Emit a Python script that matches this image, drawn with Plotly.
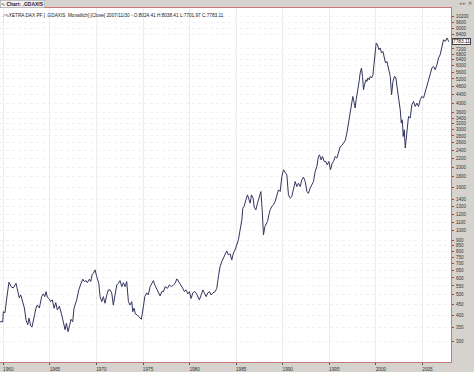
import plotly.graph_objects as go
import math

# --- data (decimal year, monthly close) ---
years = [
    1959.65, 1959.94, 1960.00, 1960.18, 1960.37, 1960.61, 1960.83, 1961.07, 1961.36, 1961.50,
    1961.72, 1961.87, 1962.08, 1962.26, 1962.44, 1962.62, 1962.76, 1962.94, 1963.08, 1963.30,
    1963.51, 1963.65, 1963.87, 1964.12, 1964.30, 1964.45, 1964.59, 1964.73, 1964.94, 1965.09,
    1965.26, 1965.45, 1965.63, 1965.80, 1966.02, 1966.23, 1966.44, 1966.63, 1966.77, 1966.95,
    1967.13, 1967.27, 1967.45, 1967.59, 1967.88, 1968.10, 1968.35, 1968.53, 1968.70, 1968.88,
    1969.02, 1969.24, 1969.39, 1969.53, 1969.67, 1969.85, 1970.03, 1970.25, 1970.39, 1970.57,
    1970.74, 1970.92, 1971.11, 1971.28, 1971.46, 1971.64, 1971.81, 1971.99, 1972.18, 1972.35,
    1972.53, 1972.72, 1972.89, 1973.07, 1973.25, 1973.43, 1973.61, 1973.79, 1973.90, 1974.04,
    1974.18, 1974.39, 1974.61, 1974.82, 1975.03, 1975.19, 1975.40, 1975.57, 1975.76, 1975.97,
    1976.11, 1976.26, 1976.48, 1976.65, 1976.83, 1977.01, 1977.19, 1977.37, 1977.62, 1977.83,
    1978.05, 1978.26, 1978.44, 1978.63, 1978.84, 1979.05, 1979.27, 1979.44, 1979.62, 1979.81,
    1979.98, 1980.16, 1980.34, 1980.52, 1980.70, 1980.88, 1981.05, 1981.24, 1981.42, 1981.59,
    1981.77, 1981.95, 1982.13, 1982.31, 1982.49, 1982.74, 1982.92, 1983.09, 1983.27, 1983.45,
    1983.62, 1983.81, 1983.99, 1984.16, 1984.35, 1984.53, 1984.70, 1984.88, 1985.07, 1985.24,
    1985.42, 1985.61, 1985.71, 1985.85, 1986.04, 1986.21, 1986.39, 1986.50, 1986.64, 1986.82,
    1986.93, 1987.11, 1987.29, 1987.50, 1987.65, 1987.79, 1987.93, 1988.08, 1988.22, 1988.36,
    1988.51, 1988.65, 1988.83, 1989.00, 1989.18, 1989.37, 1989.54, 1989.72, 1989.90, 1990.08,
    1990.26, 1990.44, 1990.61, 1990.79, 1990.97, 1991.15, 1991.33, 1991.51, 1991.69, 1991.87,
    1992.05, 1992.22, 1992.41, 1992.59, 1992.76, 1992.94, 1993.13, 1993.30, 1993.48, 1993.66,
    1993.83, 1993.94, 1994.12, 1994.26, 1994.45, 1994.63, 1994.77, 1994.95, 1995.12, 1995.31,
    1995.45, 1995.63, 1995.81, 1995.98, 1996.16, 1996.35, 1996.52, 1996.70, 1996.88, 1997.05,
    1997.23, 1997.41, 1997.52, 1997.63, 1997.77, 1997.88, 1998.02, 1998.17, 1998.31, 1998.45,
    1998.56, 1998.67, 1998.77, 1998.93, 1999.03, 1999.14, 1999.28, 1999.39, 1999.53, 1999.68,
    1999.79, 1999.89, 2000.03, 2000.17, 2000.32, 2000.46, 2000.60, 2000.75, 2000.89, 2001.03,
    2001.18, 2001.35, 2001.54, 2001.68, 2001.83, 2002.00, 2002.15, 2002.26, 2002.43, 2002.61,
    2002.72, 2002.83, 2002.93, 2003.04, 2003.15, 2003.26, 2003.36, 2003.50, 2003.68, 2003.86,
    2004.04, 2004.22, 2004.40, 2004.57, 2004.76, 2004.94, 2005.11, 2005.29, 2005.47, 2005.64,
    2005.82, 2006.01, 2006.18, 2006.36, 2006.55, 2006.72, 2006.90, 2007.09, 2007.26, 2007.44,
    2007.63, 2007.83,
]
closes = [
    373, 373, 416, 411, 483, 573, 546, 538, 566, 538,
    483, 499, 464, 433, 380, 361, 388, 357, 352, 401,
    433, 447, 433, 490, 505, 490, 517, 487, 477, 464,
    473, 432, 459, 424, 442, 409, 373, 342, 367, 335,
    361, 383, 373, 432, 473, 527, 566, 592, 577, 583,
    570, 592, 577, 621, 632, 655, 609, 566, 490, 464,
    490, 456, 499, 527, 527, 510, 447, 490, 556, 566,
    583, 546, 570, 546, 577, 464, 447, 464, 416, 432,
    406, 401, 391, 383, 438, 490, 510, 499, 546, 566,
    583, 556, 527, 510, 494, 517, 517, 546, 536, 556,
    546, 556, 566, 594, 577, 556, 536, 517, 527, 505,
    517, 480, 510, 517, 510, 490, 473, 499, 527, 510,
    490, 510, 517, 499, 510, 517, 536, 609, 679, 716,
    744, 779, 805, 771, 779, 730, 785, 814, 859, 907,
    1011, 1127, 1280, 1303, 1400, 1478, 1400, 1351, 1478, 1426,
    1294, 1257, 1351, 1478, 1532, 1257, 957, 1048, 1087, 1106,
    1190, 1257, 1303, 1326, 1374, 1478, 1561, 1532, 1804, 1940,
    1871, 1836, 1478, 1426, 1451, 1590, 1708, 1618, 1678, 1618,
    1740, 1792, 1708, 1532, 1503, 1590, 1647, 1708, 1904, 2011,
    2242, 2282, 2162, 2242, 2123, 2123, 2048, 2123, 1940, 2086,
    2123, 2242, 2203, 2366, 2489, 2529, 2601, 2658, 2889, 3197,
    3488, 3859, 4301, 4073, 3793, 4149, 4461, 4973, 5544, 5856,
    5345, 4625, 4881, 5156, 5061, 5253, 5156, 5345, 5253, 5442,
    6066, 6890, 7680, 7538, 7142, 7277, 6890, 7011, 6642, 6180,
    6290, 5856, 5345, 4379, 5061, 5345, 5253, 4795, 4301, 3722,
    3221, 3339, 2786, 2995, 2456, 2738, 3052, 3462, 3403, 3929,
    4073, 3859, 4002, 3859, 4149, 4301, 4227, 4540, 4795, 5061,
    5442, 5856, 5958, 5747, 6066, 6528, 6765, 7404, 7962, 7816,
    8112, 7783.11,
]

x_tick_years = [1960, 1965, 1970, 1975, 1980, 1985, 1990, 1995, 2000, 2005]
y_tick_values = [10200, 9600, 9000, 8400, 7200, 6800, 6400, 6000, 5600, 5200, 4800,
                 4400, 4000, 3600, 3400, 3200, 3000, 2800, 2600, 2400, 2200, 2000,
                 1800, 1600, 1400, 1300, 1200, 1100, 1000, 900, 850, 800, 750, 700,
                 650, 600, 550, 500, 450, 400, 350, 300]
last_close = 7783.11
header_text = ("\u2215\u223fXETRA DAX PF [ .GDAXIS  Monatlich] [Close] 2007/11/30 - "
               "O:8024.41 H:8038.41 L:7701.97 C:7783.11")
tab_text = "Chart: .GDAXIS"

FONT = "Liberation Sans, Arial, sans-serif"
AXIS_RED = "#c87878"

fig = go.Figure()
fig.add_trace(go.Scatter(
    x=years, y=closes, mode="lines",
    line=dict(color="#33355e", width=1),
    hoverinfo="skip", showlegend=False,
))

fig.update_layout(
    width=474, height=372,
    margin=dict(l=0, r=23, t=8, b=10, autoexpand=False),
    paper_bgcolor="#d6d3ce",
    plot_bgcolor="#ffffff",
    showlegend=False,
    xaxis=dict(
        range=[1959.645, 2008.06],
        automargin=False,
        tickmode="array", tickvals=x_tick_years,
        ticktext=[str(v) for v in x_tick_years],
        ticks="outside", ticklen=2, tickcolor="#555555", tickwidth=1,
        tickfont=dict(family=FONT, size=4.7, color="#333333"),
        ticklabelshift=5, ticklabelstandoff=0,
        showgrid=True, gridcolor="#ececec", gridwidth=1,
        showline=True, linecolor=AXIS_RED, linewidth=1, mirror=True,
        zeroline=False, fixedrange=True,
    ),
    yaxis=dict(
        type="log",
        automargin=False,
        range=[math.log10(241), math.log10(11230)],
        side="right",
        tickmode="array", tickvals=y_tick_values,
        ticktext=[str(v) for v in y_tick_values],
        ticks="outside", ticklen=2, tickcolor="#b04040", tickwidth=1,
        tickfont=dict(family=FONT, size=4.5, color="#333333"),
        ticklabelstandoff=1,
        showgrid=True, gridcolor="#f1f1f1", gridwidth=1, griddash="dot",
        showline=True, linecolor=AXIS_RED, linewidth=1, mirror=True,
        zeroline=False, fixedrange=True,
    ),
    annotations=[
        dict(xref="paper", yref="y", x=1, y=math.log10(last_close),
             xanchor="left", yanchor="middle", xshift=1,
             text=f"{last_close:.2f}", showarrow=False,
             font=dict(family=FONT, size=4.8, color="#000000"),
             bgcolor="#ffffff", bordercolor="#444444", borderwidth=1, borderpad=0),
        dict(xref="paper", yref="paper", x=0.002, y=0.992,
             xanchor="left", yanchor="top",
             text=header_text, showarrow=False,
             font=dict(family=FONT, size=4.7, color="#222222")),
        dict(xref="paper", yref="paper", x=0, y=1, xanchor="left", yanchor="bottom",
             text="\u223f " + "<b>" + tab_text + "</b>", showarrow=False,
             font=dict(family=FONT, size=5, color="#1a1a40"),
             bgcolor="#f3f3f3", bordercolor="#9a9a9a", borderwidth=0.5, borderpad=0.5),
        dict(xref="paper", yref="paper", x=1.05, y=1, xanchor="right", yanchor="bottom",
             text="\u25c2 \u25b8 <b>\u2715</b>", showarrow=False,
             font=dict(family=FONT, size=4.5, color="#777777")),
    ],
)

fig.write_html(
    "out.html",
    config={"displayModeBar": False, "staticPlot": True},
    post_script="document.body.style.margin='0';document.body.style.overflow='hidden';",
)
